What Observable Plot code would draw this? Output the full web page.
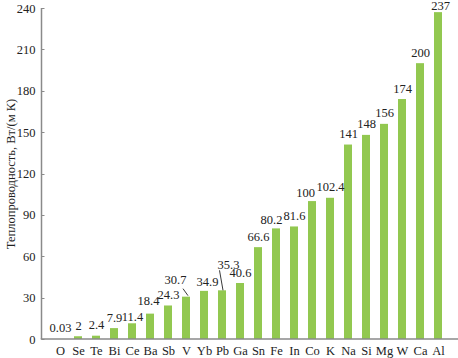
<!DOCTYPE html>
<html>
<head>
<meta charset="utf-8">
<script src="https://cdn.jsdelivr.net/npm/d3@7"></script>
<script src="https://cdn.jsdelivr.net/npm/@observablehq/plot@0.6"></script>
<style>
  html, body { margin: 0; padding: 0; background: #ffffff; }
  #chart svg { display: block; }
  #chart svg, #chart svg text { font-family: "Liberation Serif", "Times New Roman", serif !important; }
</style>
</head>
<body>
<div id="chart"></div>
<script>
// ---- data ----
const elements = ["O","Se","Te","Bi","Ce","Ba","Sb","V","Yb","Pb","Ga","Sn","Fe","In","Co","K","Na","Si","Mg","W","Ca","Al"];
const conductivity = [0.03,2,2.4,7.9,11.4,18.4,24.3,30.7,34.9,35.3,40.6,66.6,80.2,81.6,100,102.4,141,148,156,174,200,237];
const valueLabels = ["0.03","2","2.4","7.9","11.4","18.4","24.3","30.7","34.9","35.3","40.6","66.6","80.2","81.6","100","102.4","141","148","156","174","200","237"];
const yTicks = [0,30,60,90,120,150,180,210,240];
const yTitle = "Теплопроводность, Вт/(м К)";

const data = elements.map((el, i) => ({el, v: conductivity[i], label: valueLabels[i]}));

// ---- style ----
const FONT = "Liberation Serif, Times New Roman, serif";
const GREEN = "#92c850";
const AXIS = "#8a8a8a";
const INK = "#222222";

// label offsets (pixels) for hand-placed value labels
const nudge = {V: [-11, -6], Pb: [6, -15], Yb: [3, 2], Ce: [0, 4], Ba: [-2, -2], Fe: [-5, 2], Co: [-7, 2], Al: [2, 4]};
// leader lines for displaced labels: [start, end] offsets from bar top centre
const leaders = {V: [[-3, -8], [2, -1]], Pb: [[-2.5, -20], [1, 0]]};

function frameLines(index, scales, values, dims) {
  const g = d3.create("svg:g");
  const x0 = dims.marginLeft + 0.5;
  const x1 = dims.width - dims.marginRight;
  const yBase = scales.y(0);
  for (const t of yTicks) {
    const yy = Math.round(scales.y(t)) + 0.5;
    g.append("line").attr("x1", x0).attr("x2", x0 + 3).attr("y1", yy).attr("y2", yy)
      .attr("stroke", AXIS).attr("stroke-width", 1);
  }
  g.append("line").attr("x1", x0).attr("x2", x0)
    .attr("y1", scales.y(yTicks[yTicks.length - 1])).attr("y2", yBase)
    .attr("stroke", AXIS).attr("stroke-width", 1.5);
  g.append("line").attr("x1", x0 - 0.75).attr("x2", x1)
    .attr("y1", yBase).attr("y2", yBase)
    .attr("stroke", AXIS).attr("stroke-width", 1.5);
  const bw = scales.x.bandwidth ? scales.x.bandwidth() / 2 : 0;
  for (const d of data) {
    const L = leaders[d.el];
    if (!L) continue;
    const cx = scales.x(d.el) + bw, cy = scales.y(d.v);
    g.append("line")
      .attr("x1", cx + L[0][0]).attr("y1", cy + L[0][1])
      .attr("x2", cx + L[1][0]).attr("y2", cy + L[1][1])
      .attr("stroke", INK).attr("stroke-width", 0.9);
  }
  return g.node();
}

const baseDy = -7;
const labelMarks = data.map(d => {
  const n = nudge[d.el] || [0, 0];
  return Plot.text([d], {
    x: "el", y: "v", text: "label",
    dx: n[0], dy: baseDy + n[1],
    lineAnchor: "bottom", textAnchor: "middle",
    fill: INK, fontSize: 12.5, fontFamily: FONT
  });
});

const chart = Plot.plot({
  width: 458,
  height: 358,
  marginLeft: 41,
  marginRight: 0,
  marginTop: 8,
  marginBottom: 19,
  style: {fontFamily: FONT, fontSize: "12.5px", color: INK, background: "#ffffff", overflow: "visible"},
  x: {domain: elements, paddingInner: 0.55, paddingOuter: 0.25},
  y: {domain: [0, 240]},
  marks: [
    Plot.barY(data, {x: "el", y: "v", fill: GREEN}),
    Plot.axisX({tickSize: 0, tickPadding: 7, label: null, fontSize: 12.5, fill: INK, fontFamily: FONT}),
    Plot.axisY({ticks: yTicks, tickSize: 0, tickPadding: 6, fontSize: 12.5, fill: INK, fontFamily: FONT,
      label: yTitle, labelAnchor: "center", labelArrow: "none", labelOffset: 35}),
    frameLines,
    ...labelMarks
  ]
});

document.getElementById("chart").appendChild(chart);
</script>
</body>
</html>
